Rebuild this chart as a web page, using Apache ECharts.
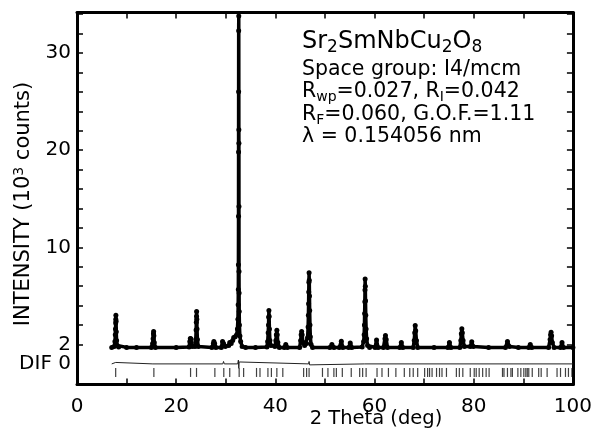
<!DOCTYPE html>
<html>
<head>
<meta charset="utf-8">
<script src="https://cdn.jsdelivr.net/npm/echarts@6/dist/echarts.min.js"></script>
<style>
  html, body { margin: 0; padding: 0; background: #fff; }
  #chart { width: 595px; height: 433px; }
</style>
</head>
<body>
<div id="chart"></div>
<script>
// observed pattern [2theta, intensity in axis units]
var obsPoints = [
  [7.0,-0.3],[7.5,-0.2],[7.65,0.3],[7.72,1.0],[7.76,1.6],[7.8,2.2],[7.82,2.6],[7.84,3.0],[7.88,2.4],[7.92,1.3],[7.98,0.4],[8.1,-0.1],[8.4,-0.25],
  [10,-0.3],[12,-0.3],[15.0,-0.3],[15.25,0.1],[15.35,0.6],[15.42,1.1],[15.45,1.34],[15.5,0.9],[15.58,0.2],[15.8,-0.3],
  [20,-0.3],[22.6,-0.25],[22.75,0.3],[22.85,0.62],[22.95,0.6],[23.05,0.2],[23.2,-0.2],[23.8,-0.2],[23.95,0.5],[24.02,1.5],[24.06,2.3],[24.1,2.9],[24.12,3.39],[24.16,2.6],[24.2,1.6],[24.28,0.5],[24.45,-0.2],
  [27.2,-0.3],[27.5,0.1],[27.6,0.31],[27.75,0.1],[28.0,-0.3],[29.1,-0.3],[29.35,0.31],[29.55,0.1],[29.9,-0.2],[30.6,-0.1],[30.8,0.21],[31.1,0.1],[31.4,0.4],[31.6,0.72],[31.9,0.8],[32.2,1.0],
  [32.35,1.6],[32.45,2.6],[32.5,4.1],[32.53,5.65],[32.55,8.2],[32.57,13.2],[32.58,19.8],[32.59,26.0],[32.6,32.3],[32.62,33.8],[32.64,22.1],[32.65,20.7],[32.66,14.2],[32.67,7.5],[32.69,5.3],[32.71,3.4],[32.75,2.0],[32.85,0.86],[33.0,0.3],[33.3,-0.2],[34,-0.3],
  [36,-0.3],[38.3,-0.25],[38.45,0.3],[38.55,1.2],[38.62,2.0],[38.66,2.8],[38.7,3.5],[38.74,2.9],[38.8,1.6],[38.9,0.4],[39.1,-0.1],[39.9,-0.2],[40.1,0.4],[40.2,1.0],[40.3,1.47],[40.38,1.0],[40.5,0.2],[40.8,-0.3],[41.8,-0.3],[42.1,0.0],[42.4,-0.3],
  [44.9,-0.3],[45.1,0.4],[45.2,1.0],[45.3,1.34],[45.4,1.0],[45.55,0.2],[45.9,-0.1],[46.3,0.1],[46.5,0.7],[46.6,1.8],[46.66,3.0],[46.7,4.2],[46.73,5.4],[46.76,6.4],[46.8,7.37],[46.84,6.6],[46.88,5.0],[46.92,3.5],[46.98,2.0],[47.05,0.8],[47.2,0.0],[47.5,-0.3],
  [51.0,-0.3],[51.4,0.0],[51.8,-0.3],[52.9,-0.3],[53.3,0.34],[53.6,-0.3],[54.8,-0.3],[55.1,0.16],[55.4,-0.3],
  [57.5,-0.25],[57.8,0.3],[57.9,1.0],[57.96,2.0],[58.0,3.2],[58.04,4.4],[58.07,5.6],[58.1,6.75],[58.14,6.0],[58.18,4.5],[58.23,3.0],[58.3,1.6],[58.4,0.6],[58.6,-0.1],[59.0,-0.3],
  [60.1,-0.3],[60.4,0.45],[60.7,-0.3],[61.8,-0.3],[62.1,0.6],[62.2,0.93],[62.35,0.5],[62.6,-0.3],
  [65.1,-0.3],[65.4,0.21],[65.7,-0.3],[67.8,-0.3],[68.0,0.4],[68.1,1.2],[68.2,1.96],[68.3,1.4],[68.45,0.4],[68.7,-0.3],
  [72,-0.3],[74.8,-0.3],[75.1,0.21],[75.4,-0.3],[77.2,-0.3],[77.4,0.4],[77.5,1.1],[77.6,1.62],[77.7,1.2],[77.85,0.4],[78.1,-0.2],[79.3,-0.2],[79.6,0.28],[79.9,-0.2],
  [83,-0.3],[86.4,-0.3],[86.8,0.31],[87.2,-0.2],[89,-0.3],[91.1,-0.3],[91.4,0.0],[91.7,-0.3],[95.1,-0.3],[95.4,0.5],[95.5,1.0],[95.6,1.27],[95.7,0.9],[95.85,0.2],[96.2,-0.3],[97.5,-0.3],[97.8,0.21],[98.1,-0.3],[100,-0.3]
];

// difference curve (obs - calc), drawn around the DIF zero level
var diffPoints = [
  [7,-2],[7.8,-1.85],[8.0,-2],[15.3,-2],[15.45,-1.9],[15.6,-2],[24.0,-2],[24.1,-1.88],[24.2,-2],
  [29.4,-2],[29.55,-1.75],[29.7,-2],[32.4,-2],[32.55,-1.6],[32.62,-2.45],[32.7,-1.8],[32.85,-2],
  [46.7,-2],[46.8,-1.75],[46.9,-2.1],[47.0,-2],[58.0,-2],[58.1,-1.85],[58.2,-2],[100,-2]
];

// Bragg reflection positions (2theta)
var braggPos = [
  7.8, 15.5, 22.9, 24.1, 27.8, 29.6, 30.8, 32.7, 33.6, 36.2, 36.9, 38.5, 39.2, 40.3, 41.5,
  45.7, 46.3, 46.8, 49.5, 50.6, 51.8, 52.3, 53.5, 55.3, 57.0, 57.6, 58.3, 60.5, 61.5, 62.8, 64.3,
  66.0, 67.1, 67.8, 68.7, 70.1, 70.7, 71.1, 71.6, 72.5, 73.1, 73.6, 74.5, 76.5, 77.1, 77.8, 79.3,
  80.1, 80.5, 81.1, 81.8, 82.5, 83.1, 85.8, 86.1, 86.8, 87.5, 87.8, 88.9, 89.5, 90.1, 90.5, 90.8,
  91.1, 91.8, 93.1, 93.6, 94.8, 96.8, 97.5, 98.5, 99.1, 99.8
];
var braggLevel = -2.88;

// tick labels
var yTickValues = [0, 2, 4, 6, 8, 10, 12, 14, 16, 18, 20, 22, 24, 26, 28, 30, 32, 34];
var yLabelValues = [0, 10, 20, 30];
var yLabelText = { '0': '2', '10': '10', '20': '20', '30': '30' };
var difLabelValues = [-2];
var difLabelText = 'DIF 0';
var xLabelValues = [0, 20, 40, 60, 80, 100];

var FONT = '"DejaVu Sans", sans-serif';
var Y_MIN = -4.12, Y_MAX = 34.17;

var chart = echarts.init(document.getElementById('chart'), null, { renderer: 'canvas' });

function xAxisCfg(pos, showLabel) {
  return {
    type: 'value', position: pos, min: 0, max: 100, interval: 10,
    axisLine: { show: true, onZero: false, lineStyle: { color: '#000', width: 3 } },
    axisTick: { show: true, inside: true, length: 6, lineStyle: { color: '#000', width: 1.5 } },
    axisLabel: {
      show: showLabel, color: '#000', fontSize: 20, fontFamily: FONT, margin: 12,
      showMinLabel: true, showMaxLabel: true, hideOverlap: false,
      formatter: function (v) { return xLabelValues.indexOf(v) >= 0 ? String(v) : ''; }
    },
    splitLine: { show: false }
  };
}
function yAxisCfg(pos, showLabel) {
  return {
    type: 'value', position: pos, min: Y_MIN, max: Y_MAX,
    axisLine: { show: true, onZero: false, lineStyle: { color: '#000', width: 3 } },
    axisTick: { show: true, inside: true, length: 6, customValues: yTickValues, lineStyle: { color: '#000', width: 1.5 } },
    axisLabel: {
      show: showLabel, color: '#000', fontSize: 20, fontFamily: FONT, margin: 6,
      showMinLabel: true, showMaxLabel: true, hideOverlap: false,
      customValues: yLabelValues,
      formatter: function (v) { return yLabelText[String(v)] || ''; }
    },
    splitLine: { show: false }
  };
}
// extra left axis carrying only the DIF zero label
var difAxis = {
  type: 'value', position: 'left', min: Y_MIN, max: Y_MAX,
  axisLine: { show: false, onZero: false }, axisTick: { show: false }, splitLine: { show: false },
  axisLabel: {
    show: true, color: '#000', fontSize: 20, fontFamily: FONT, margin: 6,
    showMinLabel: true, showMaxLabel: true, hideOverlap: false,
    customValues: difLabelValues,
    formatter: function () { return difLabelText; }
  }
};

var sub = function (size) {
  return { fontSize: size, fontFamily: FONT, lineHeight: size, verticalAlign: 'bottom', fill: '#000' };
};
var main = function (size, lh) {
  return { fontSize: size, fontFamily: FONT, lineHeight: lh, verticalAlign: 'middle', fill: '#000' };
};

chart.setOption({
  animation: false,
  backgroundColor: '#fff',
  grid: { left: 77, right: 20, top: 12.5, bottom: 48.5 },
  xAxis: [xAxisCfg('bottom', true), xAxisCfg('top', false)],
  yAxis: [yAxisCfg('left', true), yAxisCfg('right', false), difAxis],
  series: [
    {
      name: 'observed', type: 'line', xAxisIndex: 0, yAxisIndex: 0,
      data: obsPoints, symbol: 'circle', symbolSize: 5, showSymbol: true,
      lineStyle: { color: '#000', width: 3.5 }, itemStyle: { color: '#000' }, z: 3
    },
    {
      name: 'difference', type: 'line', xAxisIndex: 0, yAxisIndex: 0,
      data: diffPoints, symbol: 'none',
      lineStyle: { color: '#222', width: 1 }
    },
    {
      name: 'bragg', type: 'scatter', xAxisIndex: 0, yAxisIndex: 0,
      data: braggPos.map(function (p) { return [p, braggLevel]; }),
      symbol: 'rect', symbolSize: [1.2, 9], itemStyle: { color: '#111' }
    }
  ],
  graphic: [
    {
      type: 'text', x: 24, y: 204, rotation: Math.PI / 2,
      style: {
        text: 'INTENSITY (10{s|3} counts)', fill: '#000', fontSize: 21, fontFamily: FONT,
        align: 'center', verticalAlign: 'middle', lineHeight: 24,
        rich: { s: { fontSize: 14, fontFamily: FONT, lineHeight: 14, verticalAlign: 'top', fill: '#000' } }
      }
    },
    {
      type: 'text', x: 376, y: 419,
      style: { text: '2 Theta (deg)', fill: '#000', fontSize: 19.5, fontFamily: FONT, align: 'center', verticalAlign: 'middle' }
    },
    {
      type: 'text', x: 302, y: 42,
      style: {
        text: '{n|Sr}{s|2}{n|SmNbCu}{s|2}{n|O}{s|8}', verticalAlign: 'middle', fill: '#000',
        rich: { n: main(24, 28), s: sub(17) }
      }
    },
    {
      type: 'text', x: 302, y: 70,
      style: { text: 'Space group: I4/mcm', fill: '#000', fontSize: 20.5, fontFamily: FONT, verticalAlign: 'middle' }
    },
    {
      type: 'text', x: 302, y: 92,
      style: {
        text: '{n|R}{s|wp}{n|=0.027, R}{s|I}{n|=0.042}', verticalAlign: 'middle', fill: '#000',
        rich: { n: main(20.5, 24), s: sub(14) }
      }
    },
    {
      type: 'text', x: 302, y: 115,
      style: {
        text: '{n|R}{s|F}{n|=0.060, G.O.F.=1.11}', verticalAlign: 'middle', fill: '#000',
        rich: { n: main(20.5, 24), s: sub(14) }
      }
    },
    {
      type: 'text', x: 302, y: 137,
      style: { text: '\u03bb = 0.154056 nm', fill: '#000', fontSize: 20.5, fontFamily: FONT, verticalAlign: 'middle' }
    }
  ]
});
</script>
</body>
</html>
